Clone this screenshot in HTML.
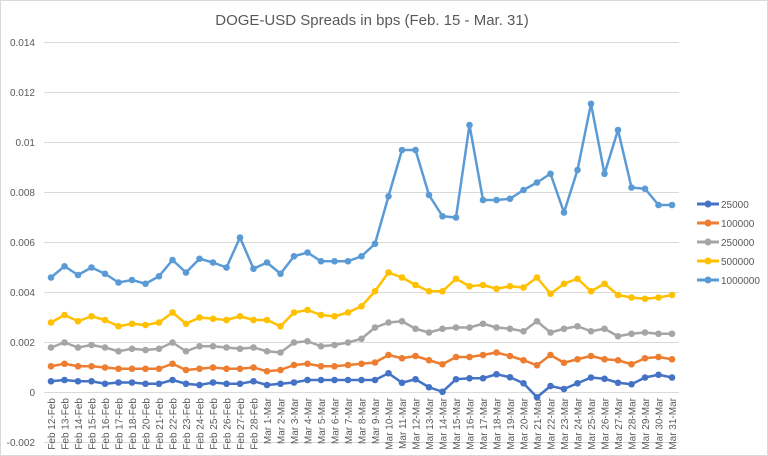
<!DOCTYPE html>
<html><head><meta charset="utf-8"><style>
html,body{margin:0;padding:0;background:#fff;}
svg{display:block;font-family:"Liberation Sans",sans-serif;}
</style></head><body>
<svg id="c" width="768" height="456" viewBox="0 0 768 456">
<rect x="0.5" y="0.5" width="767" height="455" fill="#fff" stroke="#d9d9d9"/>
<text x="372" y="25" text-anchor="middle" font-size="15" fill="#595959">DOGE-USD Spreads in bps (Feb. 15 - Mar. 31)</text>
<g stroke="#d9d9d9" stroke-width="1">
<line x1="44" x2="679" y1="42.5" y2="42.5"/><line x1="44" x2="679" y1="92.5" y2="92.5"/>
<line x1="44" x2="679" y1="142.5" y2="142.5"/><line x1="44" x2="679" y1="192.5" y2="192.5"/>
<line x1="44" x2="679" y1="242.5" y2="242.5"/><line x1="44" x2="679" y1="292.5" y2="292.5"/>
<line x1="44" x2="679" y1="342.5" y2="342.5"/><line x1="44" x2="679" y1="392.5" y2="392.5"/>
<line x1="44" x2="679" y1="442.5" y2="442.5"/>
</g>
<g font-size="10" fill="#595959" text-anchor="end">
<text x="35" y="46">0.014</text><text x="35" y="96">0.012</text><text x="35" y="146">0.01</text>
<text x="35" y="196">0.008</text><text x="35" y="246">0.006</text><text x="35" y="296">0.004</text>
<text x="35" y="346">0.002</text><text x="35" y="396">0</text><text x="35" y="446">-0.002</text>
</g>
<g id="xl" font-size="10" fill="#595959" text-anchor="end">
<text transform="translate(55,398) rotate(-90)">Feb 12-Feb</text>
<text transform="translate(68.5,398) rotate(-90)">Feb 13-Feb</text>
<text transform="translate(82,398) rotate(-90)">Feb 14-Feb</text>
<text transform="translate(95.5,398) rotate(-90)">Feb 15-Feb</text>
<text transform="translate(109,398) rotate(-90)">Feb 16-Feb</text>
<text transform="translate(122.5,398) rotate(-90)">Feb 17-Feb</text>
<text transform="translate(136,398) rotate(-90)">Feb 18-Feb</text>
<text transform="translate(149.5,398) rotate(-90)">Feb 20-Feb</text>
<text transform="translate(163,398) rotate(-90)">Feb 21-Feb</text>
<text transform="translate(176.5,398) rotate(-90)">Feb 22-Feb</text>
<text transform="translate(190,398) rotate(-90)">Feb 23-Feb</text>
<text transform="translate(203.5,398) rotate(-90)">Feb 24-Feb</text>
<text transform="translate(217,398) rotate(-90)">Feb 25-Feb</text>
<text transform="translate(230.5,398) rotate(-90)">Feb 26-Feb</text>
<text transform="translate(244,398) rotate(-90)">Feb 27-Feb</text>
<text transform="translate(257.5,398) rotate(-90)">Feb 28-Feb</text>
<text transform="translate(271,398) rotate(-90)">Mar 1-Mar</text>
<text transform="translate(284.5,398) rotate(-90)">Mar 2-Mar</text>
<text transform="translate(298,398) rotate(-90)">Mar 3-Mar</text>
<text transform="translate(311.5,398) rotate(-90)">Mar 4-Mar</text>
<text transform="translate(325,398) rotate(-90)">Mar 5-Mar</text>
<text transform="translate(338.5,398) rotate(-90)">Mar 6-Mar</text>
<text transform="translate(352,398) rotate(-90)">Mar 7-Mar</text>
<text transform="translate(365.5,398) rotate(-90)">Mar 8-Mar</text>
<text transform="translate(379,398) rotate(-90)">Mar 9-Mar</text>
<text transform="translate(392.5,398) rotate(-90)">Mar 10-Mar</text>
<text transform="translate(406,398) rotate(-90)">Mar 11-Mar</text>
<text transform="translate(419.5,398) rotate(-90)">Mar 12-Mar</text>
<text transform="translate(433,398) rotate(-90)">Mar 13-Mar</text>
<text transform="translate(446.5,398) rotate(-90)">Mar 14-Mar</text>
<text transform="translate(460,398) rotate(-90)">Mar 15-Mar</text>
<text transform="translate(473.5,398) rotate(-90)">Mar 16-Mar</text>
<text transform="translate(487,398) rotate(-90)">Mar 17-Mar</text>
<text transform="translate(500.5,398) rotate(-90)">Mar 18-Mar</text>
<text transform="translate(514,398) rotate(-90)">Mar 19-Mar</text>
<text transform="translate(527.5,398) rotate(-90)">Mar 20-Mar</text>
<text transform="translate(541,398) rotate(-90)">Mar 21-Mar</text>
<text transform="translate(554.5,398) rotate(-90)">Mar 22-Mar</text>
<text transform="translate(568,398) rotate(-90)">Mar 23-Mar</text>
<text transform="translate(581.5,398) rotate(-90)">Mar 24-Mar</text>
<text transform="translate(595,398) rotate(-90)">Mar 25-Mar</text>
<text transform="translate(608.5,398) rotate(-90)">Mar 26-Mar</text>
<text transform="translate(622,398) rotate(-90)">Mar 27-Mar</text>
<text transform="translate(635.5,398) rotate(-90)">Mar 28-Mar</text>
<text transform="translate(649,398) rotate(-90)">Mar 29-Mar</text>
<text transform="translate(662.5,398) rotate(-90)">Mar 30-Mar</text>
<text transform="translate(676,398) rotate(-90)">Mar 31-Mar</text>
</g>
<g id="series"></g>
<g font-size="10" fill="#595959">
<line x1="697" x2="719" y1="204" y2="204" stroke="#4472c4" stroke-width="3"/><circle cx="708" cy="204" r="3.5" fill="#4472c4"/><text x="721" y="208">25000</text>
<line x1="697" x2="719" y1="223" y2="223" stroke="#ed7d31" stroke-width="3"/><circle cx="708" cy="223" r="3.5" fill="#ed7d31"/><text x="721" y="227">100000</text>
<line x1="697" x2="719" y1="242" y2="242" stroke="#a5a5a5" stroke-width="3"/><circle cx="708" cy="242" r="3.5" fill="#a5a5a5"/><text x="721" y="246">250000</text>
<line x1="697" x2="719" y1="261" y2="261" stroke="#ffc000" stroke-width="3"/><circle cx="708" cy="261" r="3.5" fill="#ffc000"/><text x="721" y="265">500000</text>
<line x1="697" x2="719" y1="280" y2="280" stroke="#5b9bd5" stroke-width="3"/><circle cx="708" cy="280" r="3.5" fill="#5b9bd5"/><text x="721" y="284">1000000</text>
</g>
</svg>
<script>
var S=[
["#5b9bd5",[4.6,5.05,4.7,5.0,4.75,4.4,4.5,4.35,4.65,5.3,4.8,5.35,5.2,5.0,6.2,4.95,5.2,4.75,5.45,5.6,5.25,5.25,5.25,5.45,5.95,7.85,9.7,9.7,7.9,7.05,7.0,10.7,7.7,7.7,7.75,8.1,8.4,8.75,7.2,8.9,11.55,8.75,10.5,8.2,8.15,7.5,7.5]],
["#ffc000",[2.8,3.1,2.85,3.05,2.9,2.65,2.75,2.7,2.8,3.2,2.75,3.0,2.95,2.9,3.05,2.9,2.9,2.65,3.2,3.3,3.1,3.05,3.2,3.45,4.05,4.8,4.6,4.3,4.05,4.05,4.55,4.25,4.3,4.15,4.25,4.2,4.6,3.95,4.35,4.55,4.05,4.35,3.9,3.8,3.75,3.8,3.9]],
["#a5a5a5",[1.8,2.0,1.8,1.9,1.8,1.65,1.75,1.7,1.75,2.0,1.65,1.85,1.85,1.8,1.75,1.8,1.65,1.6,2.0,2.05,1.85,1.9,2.0,2.15,2.6,2.8,2.85,2.55,2.4,2.55,2.6,2.6,2.75,2.6,2.55,2.45,2.85,2.4,2.55,2.65,2.45,2.55,2.25,2.35,2.4,2.35,2.35]],
["#ed7d31",[1.05,1.15,1.05,1.05,1.0,0.95,0.95,0.95,0.95,1.15,0.9,0.95,1.0,0.95,0.95,1.0,0.85,0.9,1.1,1.15,1.05,1.05,1.1,1.15,1.2,1.5,1.37,1.46,1.29,1.13,1.42,1.42,1.5,1.6,1.46,1.29,1.09,1.5,1.19,1.33,1.46,1.33,1.29,1.13,1.37,1.42,1.33]],
["#4472c4",[0.45,0.5,0.45,0.45,0.35,0.4,0.4,0.35,0.35,0.5,0.35,0.3,0.4,0.35,0.35,0.45,0.3,0.35,0.4,0.5,0.5,0.5,0.5,0.5,0.5,0.77,0.39,0.53,0.21,0.03,0.53,0.57,0.57,0.73,0.61,0.37,-0.19,0.26,0.14,0.37,0.6,0.55,0.39,0.33,0.6,0.71,0.6]]];
var g=document.getElementById('series'),h='';
S.forEach(function(s){var p=s[1].map(function(v,i){return [51+13.5*i,392.5-v*25];});
h+='<polyline fill="none" stroke="'+s[0]+'" stroke-width="2.5" stroke-linejoin="round" points="'+p.map(function(q){return q.join(',')}).join(' ')+'"/>';
p.forEach(function(q){h+='<circle cx="'+q[0]+'" cy="'+q[1]+'" r="3.3" fill="'+s[0]+'"/>';});});
g.innerHTML=h;
</script>
</body></html>
